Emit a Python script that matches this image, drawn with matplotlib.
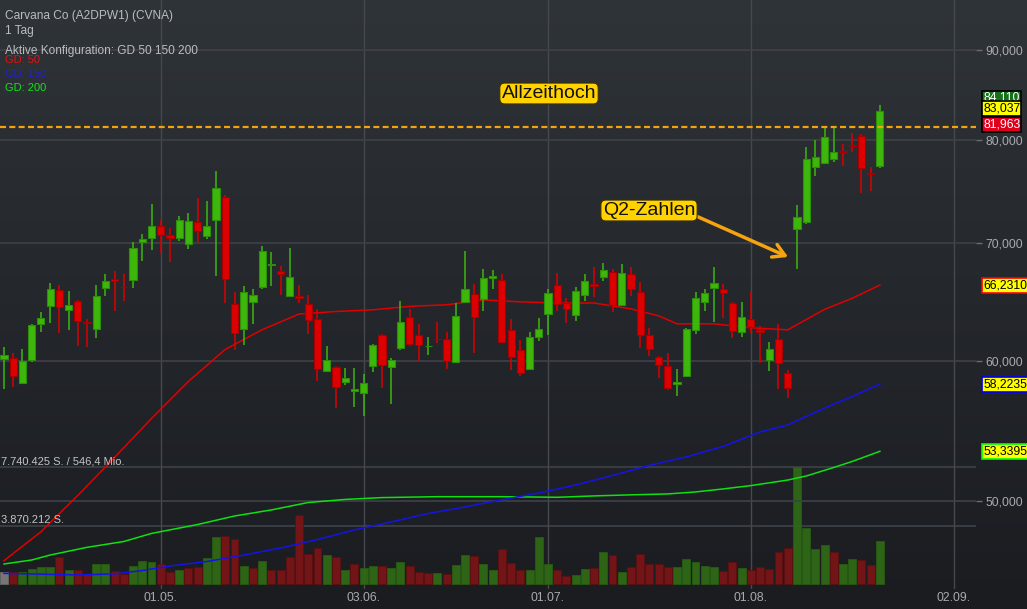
import numpy as np
import matplotlib.pyplot as plt
from matplotlib.colors import LinearSegmentedColormap
from matplotlib.ticker import FixedLocator, FixedFormatter, NullLocator

plt.rcParams['font.family'] = ['Liberation Sans', 'DejaVu Sans']

W, H = 1027, 609

# ============================================================
# Daily candles (EUR)
# ============================================================
opens = [60.14, 60.22, 58.27, 60.04, 62.95, 64.44, 65.79, 64.10, 64.86, 63.13,
         62.58, 65.97, 66.74, 66.08, 66.65, 70.03, 70.45, 71.55, 70.68, 70.45,
         69.91, 71.88, 70.58, 72.06, 74.25, 64.61, 62.53, 64.78, 66.05, 67.96,
         67.43, 65.28, 65.31, 64.61, 63.36, 59.22, 59.52, 58.35, 57.72, 57.54,
         59.60, 62.05, 59.52, 60.98, 63.52, 62.05, 61.14, 61.76, 61.73, 59.93,
         64.78, 65.44, 65.03, 66.88, 66.65, 62.46, 60.86, 59.40, 61.94, 63.77,
         66.23, 64.72, 63.68, 65.37, 66.33, 66.97, 67.37, 64.57, 67.17, 65.62,
         62.05, 60.30, 59.60, 58.22, 58.80, 62.48, 64.78, 65.97, 65.88, 64.70,
         62.29, 63.36, 62.43, 60.09, 61.73, 59.06, 71.22, 71.88, 77.21, 77.62,
         78.01, 78.86, 79.48, 80.42, 76.62, 77.38]
highs = [61.09, 60.61, 60.93, 62.97, 63.94, 66.39, 66.25, 65.73, 64.97, 63.36,
         66.25, 67.20, 67.46, 67.20, 70.03, 70.79, 73.61, 72.09, 71.32, 72.47,
         72.72, 74.18, 73.89, 76.83, 74.47, 65.65, 66.16, 65.88, 69.66, 69.15,
         67.90, 69.51, 66.25, 65.39, 64.21, 61.20, 59.57, 59.45, 59.45, 58.99,
         61.33, 62.15, 60.22, 64.89, 64.19, 62.97, 61.90, 63.08, 62.32, 64.70,
         69.24, 66.30, 67.64, 67.55, 67.20, 63.36, 61.68, 62.29, 63.46, 65.90,
         67.26, 65.12, 66.05, 67.17, 67.78, 68.14, 67.61, 68.05, 67.81, 66.48,
         62.61, 60.41, 60.61, 59.37, 62.61, 65.62, 65.88, 67.81, 66.30, 64.78,
         64.80, 65.65, 62.81, 61.50, 62.95, 59.32, 73.51, 79.24, 80.00, 81.23,
         81.23, 79.58, 80.70, 80.63, 77.21, 83.73]
lows = [57.84, 57.99, 58.19, 59.93, 62.34, 63.00, 62.26, 62.50, 61.14, 61.06,
        61.78, 65.33, 63.99, 64.91, 66.02, 68.38, 69.36, 69.09, 68.29, 70.18,
        69.45, 70.09, 70.36, 67.05, 64.66, 60.83, 61.22, 62.92, 65.93, 66.19,
        65.41, 65.20, 64.66, 62.18, 58.42, 59.11, 56.41, 58.14, 56.48, 55.82,
        59.11, 57.89, 56.70, 60.83, 61.14, 59.96, 60.43, 61.41, 59.34, 59.83,
        64.70, 60.61, 64.07, 65.93, 61.41, 59.26, 58.80, 59.37, 61.55, 62.10,
        64.07, 63.03, 63.24, 64.91, 65.25, 66.62, 63.91, 64.46, 65.33, 60.98,
        60.35, 58.68, 57.77, 57.29, 58.76, 62.15, 63.99, 63.08, 63.41, 61.81,
        61.94, 62.21, 59.83, 59.19, 57.84, 57.18, 67.61, 71.69, 76.37, 77.52,
        77.73, 77.38, 78.79, 74.64, 74.89, 77.10]
closes = [60.43, 58.80, 60.01, 62.87, 63.44, 65.88, 64.35, 64.55, 63.19, 63.00,
          65.31, 66.62, 66.57, 66.05, 69.48, 70.30, 71.50, 70.68, 70.39, 72.06,
          71.97, 71.04, 71.50, 75.13, 66.74, 62.21, 65.62, 65.37, 69.21, 68.05,
          67.17, 66.92, 65.12, 63.27, 59.37, 60.07, 57.99, 58.68, 57.84, 58.30,
          61.25, 59.68, 60.07, 63.11, 61.30, 61.27, 61.20, 61.70, 59.99, 63.60,
          65.88, 63.52, 66.83, 67.03, 61.47, 60.30, 59.06, 61.89, 62.53, 65.53,
          64.63, 64.21, 65.71, 66.59, 66.14, 67.55, 64.57, 67.26, 65.88, 62.05,
          60.93, 59.68, 57.89, 58.38, 62.53, 65.12, 65.53, 66.39, 65.53, 62.38,
          63.52, 62.75, 62.34, 60.93, 59.83, 57.92, 72.38, 78.01, 78.23, 80.28,
          78.73, 78.79, 79.38, 77.10, 76.55, 83.04]
# volume in million shares
volumes = [0.81, 0.77, 0.77, 0.99, 1.12, 1.12, 1.81, 0.95, 0.95, 0.64,
           1.34, 1.34, 0.86, 0.68, 1.21, 1.52, 1.48, 1.30, 0.77, 0.91,
           1.08, 1.10, 1.70, 3.09, 3.20, 3.00, 1.17, 1.08, 1.50, 0.91,
           0.95, 1.79, 4.56, 2.00, 2.36, 1.94, 1.77, 0.91, 1.34, 1.08,
           1.17, 1.21, 1.08, 1.44, 1.21, 0.81, 0.75, 0.71, 0.64, 1.26,
           1.92, 1.87, 1.30, 0.93, 2.30, 1.37, 0.95, 0.91, 3.13, 1.34,
           0.93, 0.53, 0.58, 1.01, 1.09, 2.10, 1.92, 0.77, 1.12, 2.00,
           1.30, 1.34, 1.12, 1.10, 1.65, 1.48, 1.21, 1.10, 0.86, 1.48,
           1.06, 0.93, 1.10, 1.01, 2.10, 2.38, 7.74, 3.68, 2.32, 2.56,
           2.10, 1.30, 1.67, 1.57, 1.24, 2.84]

# moving averages (GD 50 / 150 / 200), sampled along the lines
ma50_idx = [0, 4, 8, 12, 16, 20, 24, 28, 32, 36, 40, 44, 48, 52, 56, 60, 64,
            68, 71, 73, 77, 81, 85, 89, 92, 95]
ma50_val = [46.26, 48.03, 50.36, 52.92, 55.67, 58.42, 60.91, 62.49, 63.78,
            63.99, 64.13, 64.42, 64.55, 64.97, 64.80, 64.70, 64.70, 64.21,
            63.63, 62.97, 62.97, 62.65, 62.48, 64.17, 65.10, 66.231]
ma150_idx = [0, 8, 12, 15, 18, 22, 26, 30, 34, 38, 42, 46, 50, 54, 58, 62,
             66, 70, 74, 78, 82, 85, 89, 92, 95]
ma150_val = [45.50, 45.41, 45.47, 45.67, 45.94, 46.21, 46.60, 47.03, 47.55,
             48.15, 48.65, 49.19, 49.61, 50.08, 50.52, 51.05, 51.69, 52.37,
             52.95, 53.68, 54.70, 55.20, 56.43, 57.29, 58.2235]
ma200_idx = [0, 3, 5, 9, 13, 16, 21, 25, 29, 33, 37, 41, 47, 54, 60, 64, 68,
             72, 75, 78, 81, 85, 87, 90, 92, 95]
ma200_val = [46.06, 46.30, 46.60, 47.07, 47.43, 47.93, 48.49, 49.03, 49.42,
             49.90, 50.10, 50.22, 50.28, 50.28, 50.24, 50.33, 50.40, 50.46,
             50.59, 50.79, 51.01, 51.38, 51.65, 52.23, 52.64, 53.3395]

ath_price = 81.35
date_idx = [17, 39, 59, 81, 103]
date_labels = ['01.05.', '03.06.', '01.07.', '01.08.', '02.09.']
price_ticks = [50, 60, 70, 80, 90]
price_tick_labels = ['50,000', '60,000', '70,000', '80,000', '90,000']
vol_max = 7.740425
q2_idx, q2_price = 85.05, 68.7

# ============================================================
# Layout helpers (pixel -> figure fraction)
# ============================================================
def fx(px):
    return px / W

def fy(py):
    return 1 - py / H

fig = plt.figure(figsize=(W / 100, H / 100), dpi=100)

# background gradient
bg = fig.add_axes([0, 0, 1, 1], zorder=-10)
cmap = LinearSegmentedColormap.from_list('bg', ['#2f3439', '#24272c', '#1a1c20'])
bg.imshow(np.linspace(0, 1, 256).reshape(-1, 1), aspect='auto', cmap=cmap,
          extent=[0, 1, 0, 1])
bg.axis('off')

rect = [0, 1 - 589 / H, 976 / W, 589 / H]
ax_vol = fig.add_axes(rect, zorder=0)
ax = fig.add_axes(rect, zorder=1)
for a in (ax, ax_vol):
    a.patch.set_visible(False)
    for s in a.spines.values():
        s.set_visible(False)

x = np.arange(len(opens))
xlim = (-4 / 9.22, (976 - 4) / 9.22)

# ---- volume ----
c_arr = np.array(closes)
vol_colors = ['#7f7f7f'] + ['#2f6b16' if c_arr[i] >= c_arr[i - 1] else '#7b1416'
                            for i in range(1, len(c_arr))]
vol_edges = ['#6a6a6a'] + ['#285c12' if c_arr[i] >= c_arr[i - 1] else '#5e0f11'
                           for i in range(1, len(c_arr))]
ax_vol.bar(x, volumes, width=0.86, color=vol_colors, edgecolor=vol_edges,
           linewidth=0.6, alpha=0.92, zorder=2)
ax_vol.set_xlim(*xlim)
ax_vol.set_ylim(-5 * vol_max / 117, 584 * vol_max / 117)
for v in (vol_max / 2, vol_max):
    ax_vol.axhline(v, color='#3e4247', lw=1.2, zorder=1)
for d in date_idx:
    ax_vol.axvline(d, color='#45494e', lw=1.0, zorder=1)
ax_vol.set_xticks([])
ax_vol.set_yticks([])

# ---- price ----
ax.set_yscale('log')
ax.set_xlim(*xlim)
ax.set_ylim(80 * np.exp(-449 / 768), 80 * np.exp(140 / 768))
for p in price_ticks:
    ax.axhline(p, color='#3e4247', lw=1.2, zorder=0)

ax.plot(ma200_idx, ma200_val, color='#10e010', lw=1.1, zorder=2)
ax.plot(ma150_idx, ma150_val, color='#1414e6', lw=1.1, zorder=2)
ax.plot(ma50_idx, ma50_val, color='#e00000', lw=1.1, zorder=2)

o = np.array(opens)
c = np.array(closes)
up = c >= o
fill = np.where(up, '#3db70b', '#dc0000')
edge = np.where(up, '#2c8f08', '#a80000')
ax.vlines(x, lows, highs, colors=fill, lw=1.1, zorder=3)
lo = np.minimum(o, c)
hi = np.maximum(o, c)
ax.bar(x, hi - lo, bottom=lo, width=0.78, color=fill, edgecolor=edge,
       linewidth=0.8, zorder=4)

# all-time-high line
ax.axhline(ath_price, color='#f2a30f', lw=1.6, dashes=(2.7, 1.5), zorder=5)

ax.yaxis.tick_right()
ax.yaxis.set_major_locator(FixedLocator(price_ticks))
ax.yaxis.set_major_formatter(FixedFormatter(price_tick_labels))
ax.yaxis.set_minor_locator(NullLocator())
ax.tick_params(axis='y', which='major', length=4, width=1, color='#6a6e73',
               labelcolor='#a7aaae', labelsize=8.7, pad=3)
ax.set_xticks(date_idx)
ax.set_xticklabels(date_labels)
ax.tick_params(axis='x', length=0, labelcolor='#a7aaae', labelsize=8.7, pad=2)

# ---- annotations ----
fig.text(fx(549), fy(93.5), 'Allzeithoch', ha='center', va='center',
         fontsize=14, color='#111111',
         bbox=dict(boxstyle='round,pad=0.1,rounding_size=0.25', fc='#ffd200',
                   ec='#3a3000', lw=0.8))

ax.annotate('Q2-Zahlen', xy=(q2_idx, q2_price),
            xytext=((649 - 4) / 9.22, 80 * np.exp(-70.5 / 768)),
            ha='center', va='center', fontsize=14, color='#111111',
            bbox=dict(boxstyle='round,pad=0.1,rounding_size=0.25', fc='#ffd200',
                      ec='#3a3000', lw=0.8),
            arrowprops=dict(arrowstyle='->,head_length=0.6,head_width=0.35',
                            color='#f5a30f', lw=2.5, relpos=(1, 0.2),
                            shrinkA=0, shrinkB=0),
            zorder=6)

# ---- header texts ----
head_col = '#babdc0'
fig.text(fx(5), fy(15.5), 'Carvana Co (A2DPW1) (CVNA)', ha='left', va='center',
         fontsize=8.6, color=head_col)
fig.text(fx(5), fy(31), '1 Tag', ha='left', va='center', fontsize=8.6,
         color=head_col)
fig.text(fx(5), fy(51), 'Aktive Konfiguration: GD 50 150 200', ha='left',
         va='center', fontsize=8.6, color=head_col)
fig.text(fx(5), fy(60), 'GD: 50', ha='left', va='center', fontsize=8,
         color='#e81010')
fig.text(fx(5), fy(74), 'GD: 150', ha='left', va='center', fontsize=8,
         color='#2020d8')
fig.text(fx(5), fy(88), 'GD: 200', ha='left', va='center', fontsize=8,
         color='#18e018')

fig.text(fx(1), fy(461.5), '7.740.425 S. / 546,4 Mio.', ha='left', va='center',
         fontsize=8, color='#c2c4c6')
fig.text(fx(1), fy(520), '3.870.212 S.', ha='left', va='center', fontsize=8,
         color='#c2c4c6')

# ---- right-side value boxes ----
def value_box(py, txt, fc, ec, tc):
    fig.text(fx(983), fy(py), txt, ha='left', va='center', fontsize=8.7,
             color=tc, bbox=dict(boxstyle='square,pad=0.1', fc=fc, ec=ec, lw=1.2))

value_box(98, '84,110', '#14731a', '#000000', 'white')
value_box(108.3, '83,037', '#ffff00', '#000000', 'black')
value_box(124.5, '81,963', '#e0001b', '#000000', 'white')
value_box(285.5, '66,2310', '#ffff00', '#ff0000', 'black')
value_box(384.3, '58,2235', '#ffff00', '#0000ff', 'black')
value_box(451.3, '53,3395', '#ffff00', '#00ff00', 'black')

fig.savefig('out.png', dpi=100)
